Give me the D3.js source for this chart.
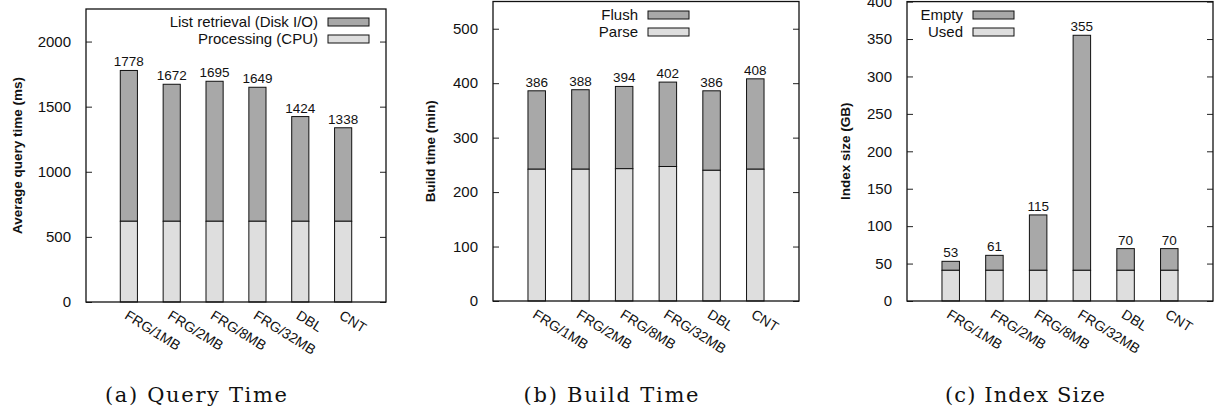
<!DOCTYPE html>
<html><head><meta charset="utf-8">
<script src="https://cdn.jsdelivr.net/npm/d3@7"></script>
<style>
html,body{margin:0;padding:0;background:#fff;}
svg{display:block;}
text{font-family:"Liberation Sans",Arial,Helvetica,sans-serif;fill:#111;}
</style></head>
<body>
<svg id="chart" width="1215" height="412"></svg>
<script>
const categories = ["FRG/1MB","FRG/2MB","FRG/8MB","FRG/32MB","DBL","CNT"];

const queryCPU   = [620,620,620,620,620,620];
const queryTotal = [1778,1672,1695,1649,1424,1338];
const queryTicks = [0,500,1000,1500,2000];
const queryLegend = ["List retrieval (Disk I/O)","Processing (CPU)"];

const buildParse = [242,242,243,247,240,242];
const buildTotal = [386,388,394,402,386,408];
const buildTicks = [0,100,200,300,400,500];
const buildLegend = ["Flush","Parse"];

const sizeUsed  = [41,41,41,41,41,41];
const sizeTotal = [53,61,115,355,70,70];
const sizeTicks = [0,50,100,150,200,250,300,350,400];
const sizeLegend = ["Empty","Used"];

const captions = ["(a)  Query Time","(b)  Build Time","(c)  Index Size"];
const yLabels = ["Average query time (ms)","Build time (min)","Index size (GB)"];

const DARK = "#a8a8a8", LIGHT = "#dedede";

const panels = [
  {base:queryCPU,total:queryTotal,ticks:queryTicks,ymax:2250,legend:queryLegend,
   left:86,right:386,top:9,bottom:302,ylab:yLabels[0],ylabX:17,caption:captions[0],capX:196,capW:182,
   legEnd:318,legY:[22,39]},
  {base:buildParse,total:buildTotal,ticks:buildTicks,ymax:550,legend:buildLegend,
   left:493,right:799,top:1.5,bottom:301,ylab:yLabels[1],ylabX:430,caption:captions[1],capX:611,capW:175,
   legEnd:638,legY:[15,32]},
  {base:sizeUsed,total:sizeTotal,ticks:sizeTicks,ymax:400,legend:sizeLegend,
   left:907,right:1213,top:1.6,bottom:301,ylab:yLabels[2],ylabX:845,caption:captions[2],capX:1025,capW:160,
   legEnd:963,legY:[15,32]}
];

const svg = d3.select("#chart");

panels.forEach(p => {
  const g = svg.append("g");
  const x = d3.scaleLinear().domain([0,7]).range([p.left,p.right]);
  const y = d3.scaleLinear().domain([0,p.ymax]).range([p.bottom,p.top]);
  const bw = x(0.4)-x(0);

  const axL = d3.axisLeft(y).tickValues(p.ticks).tickSize(-6).tickPadding(15).tickFormat(d3.format("d"));
  const gl = g.append("g").attr("transform",`translate(${p.left},0)`).call(axL);
  gl.select(".domain").remove();
  gl.selectAll("line").attr("stroke","#222");
  gl.selectAll("text").attr("font-size","15px").attr("fill","#111")
    .attr("font-family","'Liberation Sans',Arial,sans-serif");
  const axR = d3.axisRight(y).tickValues(p.ticks).tickSize(-6).tickFormat("");
  const gr = g.append("g").attr("transform",`translate(${p.right},0)`).call(axR);
  gr.select(".domain").remove();
  gr.selectAll("line").attr("stroke","#222");

  const idx = d3.range(categories.length);
  g.selectAll(".top").data(idx).join("rect")
    .attr("x",i=>x(i+1)-bw/2).attr("width",bw)
    .attr("y",i=>y(p.total[i])).attr("height",i=>y(p.base[i])-y(p.total[i]))
    .attr("fill",DARK).attr("stroke","#111").attr("stroke-width",1);
  g.selectAll(".bot").data(idx).join("rect")
    .attr("x",i=>x(i+1)-bw/2).attr("width",bw)
    .attr("y",i=>y(p.base[i])).attr("height",i=>y(0)-y(p.base[i]))
    .attr("fill",LIGHT).attr("stroke","#111").attr("stroke-width",1);

  g.selectAll(".val").data(idx).join("text")
    .attr("x",i=>x(i+1)).attr("y",i=>y(p.total[i])-4)
    .attr("text-anchor","middle").attr("font-size","13.5px")
    .text(i=>p.total[i]);

  g.selectAll(".xl").data(idx).join("text")
    .attr("transform",i=>`translate(${x(i+1)-5},${p.bottom+16}) rotate(32)`)
    .attr("font-size","14px")
    .text(i=>categories[i]);

  g.append("rect").attr("x",p.left).attr("y",p.top)
    .attr("width",p.right-p.left).attr("height",p.bottom-p.top)
    .attr("fill","none").attr("stroke","#111").attr("stroke-width",1.3);

  const fills=[DARK,LIGHT];
  p.legend.forEach((t,k)=>{
    g.append("text").attr("x",p.legEnd).attr("y",p.legY[k]).attr("dy","0.35em")
      .attr("text-anchor","end").attr("font-size","15px").text(t);
    g.append("rect").attr("x",p.legEnd+10).attr("y",p.legY[k]-4)
      .attr("width",41).attr("height",8).attr("fill",fills[k])
      .attr("stroke","#111").attr("stroke-width",1);
  });

  const cy=(p.top+p.bottom)/2;
  g.append("text").attr("transform",`translate(${p.ylabX},${cy}) rotate(-90)`)
    .attr("text-anchor","middle").attr("dy","0.35em")
    .attr("font-size","13.5px").attr("font-weight","bold").text(p.ylab);

  g.append("text").attr("x",p.capX).attr("y",402).attr("text-anchor","middle")
    .attr("font-size","21px")
    .attr("textLength",p.capW).attr("lengthAdjust","spacing")
    .attr("style","font-family:'DejaVu Serif',serif").text(p.caption);
});
</script>
</body></html>
